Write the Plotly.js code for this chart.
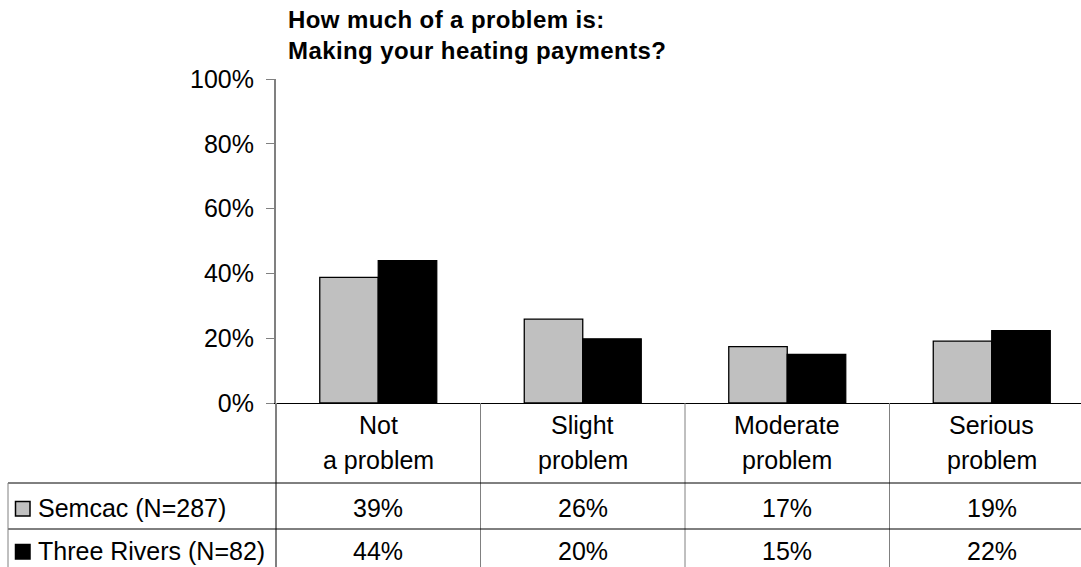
<!DOCTYPE html>
<html>
<head>
<meta charset="utf-8">
<script src="https://cdn.plot.ly/plotly-3.0.1.min.js"></script>
<style>
html,body{margin:0;padding:0;background:#fff;}
#chart{width:1081px;height:567px;}
.gtitle{letter-spacing:0.4px;}
</style>
</head>
<body>
<div id="chart"></div>
<script>
// ---- data ----
var categories = ["Not<br>a problem", "Slight<br>problem", "Moderate<br>problem", "Serious<br>problem"];
var seriesNames = ["Semcac (N=287)", "Three Rivers (N=82)"];
var semcac = [38.8, 25.9, 17.4, 19.1];
var threeRivers = [43.9, 19.8, 15.0, 22.3];
var yTickVals = [0, 20, 40, 60, 80, 100];
var yTickText = ["0%", "20%", "40%", "60%", "80%", "100%"];

// ---- layout constants ----
var W = 1081, H = 567;
var L = 276, T = 79, B = 164, R = 0;
var plotW = W - L - R, plotH = H - T - B;
var xMin = -0.5, xMax = -0.5 + plotW / 204.5;
var FONT = '"Liberation Sans", Arial, sans-serif';
var FS = 25;

function px2paperX(px) { return (px - L) / plotW; }
function py2paperY(py) { return (H - B - py) / plotH; }
function cat2paperX(i) { return (i - xMin) / (xMax - xMin); }

var xIdx = categories.map(function (c, i) { return i; });

var traces = [
  { type: 'bar', name: seriesNames[0], x: xIdx, y: semcac,
    marker: { color: '#c0c0c0', line: { color: '#000', width: 1.3 } }, hoverinfo: 'skip' },
  { type: 'bar', name: seriesNames[1], x: xIdx, y: threeRivers,
    marker: { color: '#000000', line: { color: '#000', width: 1.3 } }, hoverinfo: 'skip' }
];

var shapes = [];
var annotations = [];
var bottomP = py2paperY(H);
// vertical dividers (category boundaries)
for (var k = 0; k <= categories.length; k++) {
  var xp = cat2paperX(k - 0.5);
  if (xp > 1.001) continue;
  shapes.push({ type: 'line', xref: 'paper', yref: 'paper', x0: xp, x1: xp, y0: 0, y1: bottomP,
    line: { color: '#808080', width: k === 0 ? 2 : 1 } });
}
// table horizontal lines
[483, 529].forEach(function (py) {
  shapes.push({ type: 'line', xref: 'paper', yref: 'paper', x0: px2paperX(8), x1: 1,
    y0: py2paperY(py), y1: py2paperY(py), line: { color: '#000', width: 1 } });
});
// left border of table rows
shapes.push({ type: 'line', xref: 'paper', yref: 'paper', x0: px2paperX(8), x1: px2paperX(8),
  y0: py2paperY(483), y1: bottomP, line: { color: '#808080', width: 1 } });

// category header labels (two lines each)
categories.forEach(function (c, i) {
  var lines = c.split('<br>');
  var ys = [425, 460];
  lines.forEach(function (ln, j) {
    annotations.push({ xref: 'paper', yref: 'paper', x: cat2paperX(i), y: py2paperY(ys[j]),
      text: ln, showarrow: false, xanchor: 'center', yanchor: 'middle',
      font: { family: FONT, size: FS, color: '#000' } });
  });
});

// table rows
var rows = [semcac, threeRivers];
var rowY = [508, 551];
var swatch = ['#c0c0c0', '#000000'];
rows.forEach(function (vals, r) {
  annotations.push({ xref: 'paper', yref: 'paper', x: px2paperX(36), y: py2paperY(rowY[r]),
    text: seriesNames[r], showarrow: false, xanchor: 'left', yanchor: 'middle',
    font: { family: FONT, size: FS, color: '#000' } });
  shapes.push({ type: 'rect', xref: 'paper', yref: 'paper',
    x0: px2paperX(15.5), x1: px2paperX(30), y0: py2paperY(rowY[r] - 6.5), y1: py2paperY(rowY[r] + 8),
    fillcolor: swatch[r], line: { color: '#000', width: 1.5 } });
  vals.forEach(function (v, i) {
    annotations.push({ xref: 'paper', yref: 'paper', x: cat2paperX(i), y: py2paperY(rowY[r]),
      text: Math.round(v) + '%', showarrow: false, xanchor: 'center', yanchor: 'middle',
      font: { family: FONT, size: FS, color: '#000' } });
  });
});

var layout = {
  width: W, height: H,
  margin: { l: L, r: R, t: T, b: B, pad: 0 },
  paper_bgcolor: '#fff', plot_bgcolor: '#fff',
  showlegend: false,
  barmode: 'group', bargap: 0.428, bargroupgap: 0,
  title: { text: 'How much of a problem is:<br>Making your heating payments?',
    xref: 'container', yref: 'container', x: 288 / W, xanchor: 'left',
    y: 1 - 28 / H, yanchor: 'top',
    font: { family: FONT, size: 24, color: '#000', weight: 'bold' } },
  xaxis: { range: [xMin, xMax], showticklabels: false, ticks: '', showgrid: false, zeroline: false,
    showline: true, linecolor: '#000', linewidth: 1, fixedrange: true },
  yaxis: { range: [0, 100], tickvals: yTickVals, ticktext: yTickText, ticks: 'outside', ticklen: 8,
    tickcolor: '#808080', tickwidth: 1, showgrid: false, zeroline: false, showline: true,
    linecolor: '#808080', linewidth: 2, ticklabelstandoff: 7,
    tickfont: { family: FONT, size: FS, color: '#000' }, fixedrange: true },
  shapes: shapes,
  annotations: annotations
};

Plotly.newPlot('chart', traces, layout, { displayModeBar: false, staticPlot: true });
</script>
</body>
</html>
